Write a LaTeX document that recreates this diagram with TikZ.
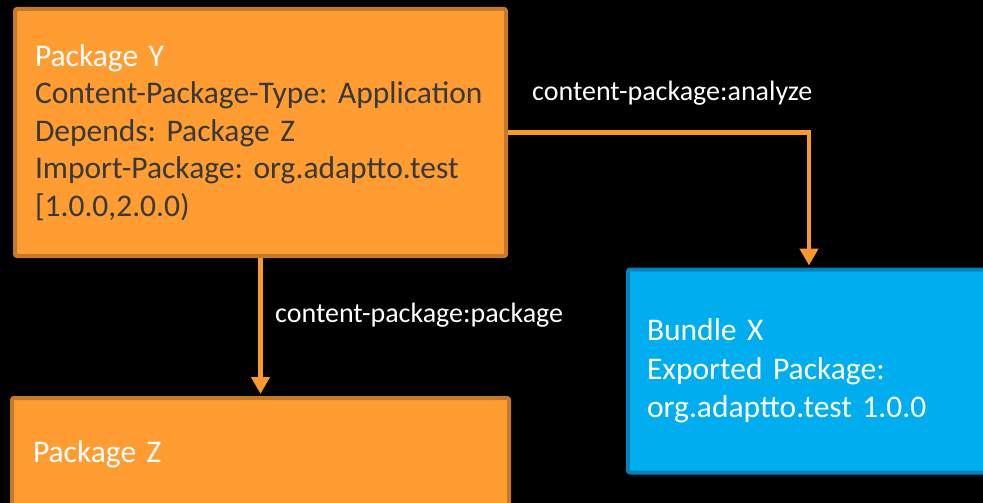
\documentclass[tikz,border=0pt]{standalone}
\usepackage{fontspec}
\setmainfont{Carlito}
\frenchspacing
\usetikzlibrary{arrows.meta}
\definecolor{orfill}{HTML}{FF9D33}
\definecolor{ordraw}{HTML}{C47A2A}
\definecolor{blfill}{HTML}{00AEEF}
\definecolor{bldraw}{HTML}{0083BC}
\definecolor{darktext}{HTML}{383838}
\definecolor{arrowc}{HTML}{FA9A2E}
\tikzset{
  obox/.style={draw=ordraw, fill=orfill, line width=4pt, rounded corners=2pt, align=left, font=\fontsize{31.5}{37.5}\selectfont, text=darktext},
  bbox/.style={draw=bldraw, fill=blfill, line width=4pt, rounded corners=2pt, align=left, font=\fontsize{31.5}{38.5}\selectfont, text=white},
  conn/.style={draw=arrowc, line width=4.5pt, -{Triangle[width=18pt,length=17pt]}, shorten >=2pt},
  lbl/.style={text=white, font=\fontsize{28}{32}\selectfont, inner sep=0pt}
}
\begin{document}
\begin{tikzpicture}[x=1pt,y=-1pt]
\fill[black] (0,0) rectangle (983,503);
\useasboundingbox (0,0) rectangle (983,503);
\node[obox, minimum width=491pt, minimum height=247pt, text width=451pt, inner xsep=20pt] (Y) at (260.5,132.5)
  {\textcolor{white}{Package Y}\\Content-Package-Type: Application\\Depends: Package Z\\Import-Package: org.adaptto.test\\{[}1.0.0,2.0.0)\\[-6pt]};
\node[obox, text=white, minimum width=497pt, minimum height=112pt, text width=455pt, inner xsep=21pt] (Z) at (260.5,454) {Package Z};
\node[bbox, minimum width=362pt, minimum height=203pt, text width=324pt, inner xsep=19pt] (X) at (809,371)
  {Bundle X\\Exported Package:\\org.adaptto.test 1.0.0\\[-6pt]};
\draw[conn] (Y.east) -| (X.north);
\draw[conn] (Y.south) -- (Z.north);
\node[lbl, anchor=west] (la) at (532,93) {content-package:analyze};
\node[lbl, anchor=west] (lp) at (275,315) {content-package:package};
\end{tikzpicture}
\end{document}
